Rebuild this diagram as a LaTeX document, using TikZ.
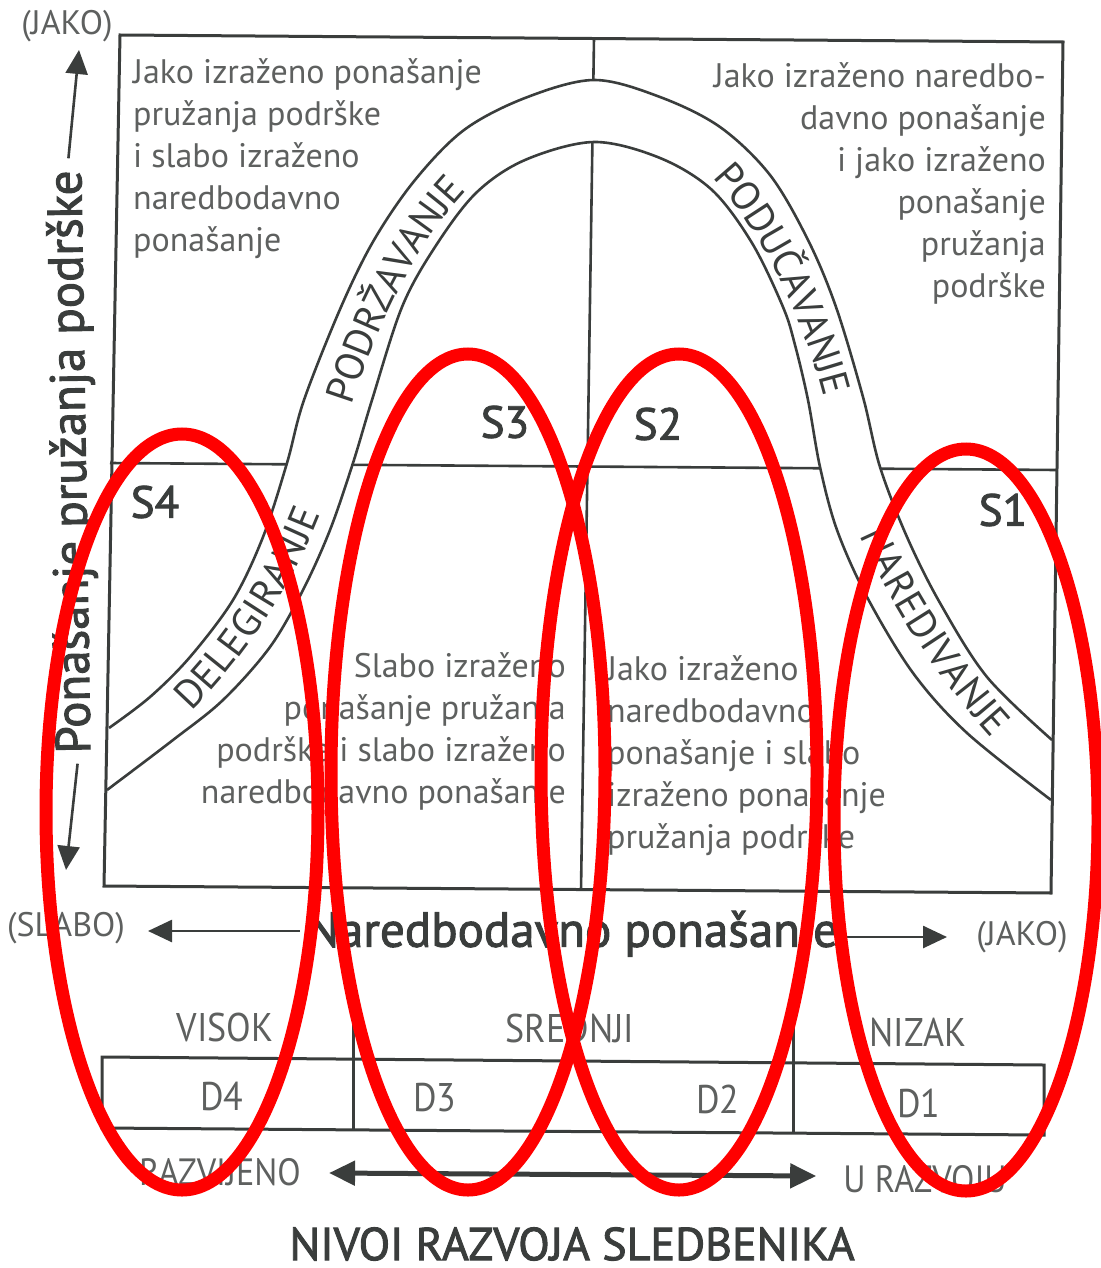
\documentclass[tikz,border=0pt]{standalone}
\usepackage{fontspec}
\usepackage{graphicx}
\setmainfont{PT Sans}
\newfontfamily\semib[FakeBold=2]{PT Sans}
\usetikzlibrary{decorations.text,arrows.meta,calc}
\definecolor{ink}{HTML}{3A3D3C}
\definecolor{txt}{HTML}{5E605F}
\definecolor{redc}{HTML}{FF0000}
\newcommand{\bandfont}{\fontsize{40}{44}\selectfont}
\newcommand{\cond}[1]{\scalebox{0.9}[1]{#1}}
\begin{document}
\begin{tikzpicture}[x=1pt,y=-1pt,
  frame/.style={draw=ink,line width=3pt},
  bandline/.style={draw=ink,line width=2.6pt},
  qtext/.style={text=txt,font=\fontsize{34}{42}\selectfont,inner sep=0pt},
  slabel/.style={text=ink,font=\semib\fontsize{45}{48}\selectfont,inner sep=0pt},
  axlabel/.style={text=ink,font=\semib\fontsize{49}{52}\selectfont,inner sep=0pt},
  small/.style={text=txt,font=\fontsize{40}{44}\selectfont,inner sep=0pt},
  paren/.style={text=txt,font=\fontsize{34}{38}\selectfont,inner sep=0pt},
  axarrow/.style={draw=ink,line width=2.6pt,-{Triangle[length=24pt,width=22pt]}},
  ring/.style={draw=redc,line width=13pt}
]
\useasboundingbox (0,0) rectangle (1100,1268);

% quadrant dividers
\draw[frame,line width=2.6pt] (110,463) -- (1057,470);
\draw[frame,line width=2.6pt] (594,38) -- (581,890);

% band (white) and its edges
\fill[white] plot[smooth,tension=0.55] coordinates {(109,728) (150,697) (190,657) (233,600) (263,537) (287,463) (304,400) (341,307) (374,240) (415,180) (464,130) (525,98) (594,80) (660,97) (720,127) (770,175) (808,240) (836,307) (863,397) (880,467) (907,537) (940,603) (987,677) (1052,740)}
  -- plot[smooth,tension=0.55] coordinates {(1051,800) (967,733) (913,673) (867,597) (837,530) (820,467) (808,400) (795,345) (783,307) (752,243) (712,190) (660,158) (594,142) (525,160) (476,193) (435,247) (402,307) (372,400) (353,463) (330,530) (303,590) (270,647) (223,700) (173,740) (107,790)} -- cycle;
\draw[bandline] plot[smooth,tension=0.55] coordinates {(109,728) (150,697) (190,657) (233,600) (263,537) (287,463) (304,400) (341,307) (374,240) (415,180) (464,130) (525,98) (594,80) (660,97) (720,127) (770,175) (808,240) (836,307) (863,397) (880,467) (907,537) (940,603) (987,677) (1052,740)};
\draw[bandline] plot[smooth,tension=0.55] coordinates {(107,790) (173,740) (223,700) (270,647) (303,590) (330,530) (353,463) (372,400) (402,307) (435,247) (476,193) (525,160) (594,142) (660,158) (712,190) (752,243) (783,307) (795,345) (808,400) (820,467) (837,530) (867,597) (913,673) (967,733) (1051,800)};

% outer frame
\draw[frame] (120,35) -- (1063,42) -- (1051,893) -- (104,886) -- cycle;

% band texts
\path[decorate,decoration={text along path,text={|\bandfont\color{ink}|DELEGIRANJE},text align=center,raise=-14pt}]
  (110,760) .. controls (205,700) and (310,560) .. (332,420);
\path[decorate,decoration={text along path,text={|\bandfont\color{ink}|PODRŽAVANJE},text align=center,raise=-14pt}]
  (320,463) .. controls (348,360) and (400,210) .. (505,140);
\path[decorate,decoration={text along path,text={|\bandfont\color{ink}|PODUČAVANJE},text align=center,raise=-14pt}]
  (662,127) .. controls (745,150) and (838,330) .. (850,467);
\path[decorate,decoration={text along path,text={|\bandfont\color{ink}|NAREDIVANJE},text align=center,raise=-14pt}]
  (850,467) .. controls (875,560) and (960,700) .. (1050,775);

% quadrant texts
\node[qtext,anchor=north west,align=left] (tl) at (133,58) {Jako izraženo ponašanje\\pružanja podrške\\i slabo izraženo\\naredbodavno\\ponašanje};
\node[qtext,anchor=north east,align=right] (tr) at (1046,62) {Jako izraženo naredbo-\\davno ponašanje\\i jako izraženo\\ponašanje\\pružanja\\podrške};
\node[qtext,anchor=north east,align=right] (bl) at (566,652) {Slabo izraženo\\ponašanje pružanja\\podrške i slabo izraženo\\naredbodavno ponašanje};
\node[qtext,anchor=north west,align=left] (br) at (607,655) {Jako izraženo\\naredbodavno\\ponašanje i slabo\\izraženo ponašanje\\pružanja podrške};

% style labels
\node[slabel] (s4) at (155,502) {S4};
\node[slabel] (s3) at (505,422) {S3};
\node[slabel] (s2) at (658,424) {S2};
\node[slabel] (s1) at (1003,510) {S1};

% vertical axis
\node[paren] (yjako) at (67,26) {(JAKO)};
\node[axlabel,rotate=90.9] (ylab) at (73,462) {Ponašanje pružanja podrške};
\coordinate (ytop) at (79,50);
\coordinate (ybot) at (66,870);
\draw[axarrow] ($(ylab.east)+(0,-12)$) -- (ytop);
\draw[axarrow] ($(ylab.west)+(0,10)$) -- (ybot);

% horizontal axis
\node[axlabel] (xlab) at (572,934) {Naredbodavno ponašanje};
\node[paren] (xslabo) at (66,928) {(SLABO)};
\node[paren] (xjako) at (1022,937) {(JAKO)};
\coordinate (xleft) at (148,931);
\coordinate (xright) at (947,937);
\draw[axarrow] ($(xlab.west)+(-6,-3)$) -- (xleft);
\draw[axarrow] ($(xlab.east)+(4,3)$) -- (xright);

% development table
\draw[frame] (102,1057) -- (1044,1065) -- (1044,1135) -- (102,1128) -- cycle;
\draw[frame] (353,1000) -- (353,1130);
\draw[frame] (793,1008) -- (793,1134);
\node[small] (visok) at (225,1027) {\cond{VISOK}};
\node[small] (srednji) at (570,1028) {\cond{SREDNJI}};
\node[small] (nizak) at (918,1032) {\cond{NIZAK}};
\node[small] (d4) at (222,1096) {\cond{D4}};
\node[small] (d3) at (435,1098) {\cond{D3}};
\node[small] (d2) at (718,1099) {\cond{D2}};
\node[small] (d1) at (919,1103) {\cond{D1}};
\node[small,font=\fontsize{38}{42}\selectfont] (razv) at (220,1172) {\cond{RAZVIJENO}};
\node[small,font=\fontsize{38}{42}\selectfont] (urazv) at (925,1179) {\cond{U RAZVOJU}};
\draw[draw=ink,line width=5pt,{Triangle[length=26pt,width=24pt]}-{Triangle[length=26pt,width=24pt]}] ($(razv.east)+(28,1)$) -- ($(urazv.west)+(-27,-3)$);
\node[text=ink,font=\semib\fontsize{46}{50}\selectfont,inner sep=0pt] (title) at (572,1244) {NIVOI RAZVOJA SLEDBENIKA};

% red rings
\draw[ring] (182,812) ellipse [x radius=136pt, y radius=378pt];
\draw[ring] (468,772) ellipse [x radius=137pt, y radius=418pt];
\draw[ring] (679,772) ellipse [x radius=138pt, y radius=418pt];
\draw[ring] (966,820) ellipse [x radius=132pt, y radius=371pt];
\end{tikzpicture}
\end{document}
